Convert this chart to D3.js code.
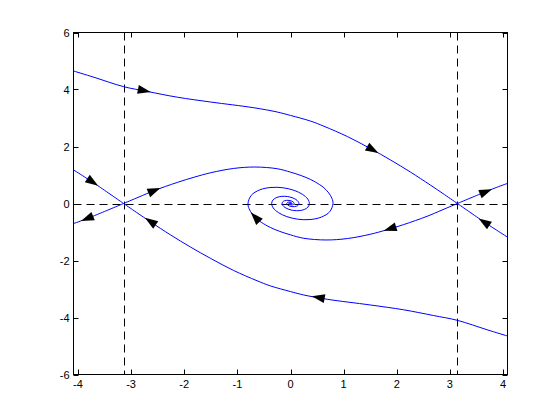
<!DOCTYPE html>
<html>
<head>
<meta charset="utf-8">
<script src="https://cdn.jsdelivr.net/npm/d3@7"></script>
<style>
body { margin: 0; background: #fff; }
svg text { font-family: "Liberation Sans", Arial, sans-serif; font-size: 11px; fill: #000; }
</style>
</head>
<body>
<svg id="chart" width="560" height="420"></svg>
<script>
const xTicks = [-4, -3, -2, -1, 0, 1, 2, 3, 4];
const yTicks = [-6, -4, -2, 0, 2, 4, 6];
const saddles = [-3.1416, 3.1416];

// trajectories, each listed in the direction of motion
const topCurve = [[-4.084, 4.65], [-3.70, 4.43], [-3.1416, 4.10], [-2.69, 3.93], [-2.13, 3.73], [-1.50, 3.56],
  [-0.69, 3.36], [-0.25, 3.21], [0, 3.09], [0.38, 2.89], [0.63, 2.71], [1.07, 2.35], [1.50, 1.93],
  [1.88, 1.53], [2.26, 1.10], [2.63, 0.65], [2.90, 0.31], [3.1416, 0]];
const bottomCurve = [[4.084, -4.65], [3.70, -4.43], [3.1416, -4.10], [2.69, -3.93], [2.13, -3.73], [1.50, -3.56],
  [0.69, -3.36], [0.25, -3.21], [0, -3.09], [-0.38, -2.89], [-0.63, -2.71], [-1.07, -2.35], [-1.50, -1.93],
  [-1.88, -1.53], [-2.26, -1.10], [-2.63, -0.65], [-2.90, -0.31], [-3.1416, 0]];
const upperLeft = [[-4.084, 1.18], [-3.85, 0.90], [-3.63, 0.63], [-3.1416, 0]];
const lowerRight = [[4.084, -1.18], [3.85, -0.90], [3.63, -0.63], [3.1416, 0]];
const rightUp = [[3.1416, 0], [3.63, 0.38], [3.85, 0.545], [4.084, 0.705]];
const leftDown = [[-3.1416, 0], [-3.63, -0.38], [-3.85, -0.545], [-4.084, -0.705]];
const spiralLeft = [[-3.1416, 0], [-2.85, 0.23], [-2.57, 0.45], [-2.13, 0.74], [-1.80, 0.93], [-1.50, 1.08],
  [-1.07, 1.23], [-0.67, 1.28], [-0.25, 1.22], [0, 1.10], [0.20, 0.98], [0.38, 0.84], [0.55, 0.66],
  [0.63, 0.55], [0.72, 0.37], [0.78, 0.18], [0.80, 0], [0.739, -0.286], [0.581, -0.477], [0.367, -0.563],
  [0.138, -0.551], [-0.069, -0.460], [-0.228, -0.318], [-0.325, -0.155], [-0.355, 0], [-0.328, 0.127],
  [-0.258, 0.212], [-0.163, 0.250], [-0.061, 0.245], [0.031, 0.204], [0.102, 0.141], [0.144, 0.069],
  [0.158, 0], [0.146, -0.056], [0.115, -0.094], [0.072, -0.111], [0.027, -0.109], [-0.014, -0.091],
  [-0.045, -0.063], [-0.064, -0.031], [-0.070, 0], [-0.051, 0.042], [-0.012, 0.048], [0.020, 0.028],
  [0.031, 0], [0.023, -0.019], [0.005, -0.022], [-0.009, -0.012], [-0.014, 0], [0, 0]];
const spiralRight = [[3.1416, 0], [2.85, -0.23], [2.57, -0.45], [2.13, -0.74], [1.80, -0.93], [1.50, -1.08],
  [1.07, -1.23], [0.67, -1.28], [0.25, -1.22], [0, -1.10], [-0.20, -0.98], [-0.38, -0.84], [-0.55, -0.66],
  [-0.63, -0.55], [-0.72, -0.37], [-0.78, -0.18], [-0.80, 0], [-0.739, 0.286], [-0.581, 0.477], [-0.367, 0.563],
  [-0.138, 0.551], [0.069, 0.460], [0.228, 0.318], [0.325, 0.155], [0.355, 0], [0.328, -0.127],
  [0.258, -0.212], [0.163, -0.250], [0.061, -0.245], [-0.031, -0.204], [-0.102, -0.141], [-0.144, -0.069],
  [-0.158, 0], [-0.146, 0.056], [-0.115, 0.094], [-0.072, 0.111], [-0.027, 0.109], [0.014, 0.091],
  [0.045, 0.063], [0.064, 0.031], [0.070, 0], [0.051, -0.042], [0.012, -0.048], [-0.020, -0.028],
  [-0.031, 0], [-0.023, 0.019], [-0.005, 0.022], [0.009, 0.012], [0.014, 0], [0, 0]];

const curves = { topCurve, bottomCurve, upperLeft, lowerRight, rightUp, leftDown, spiralLeft, spiralRight };

// arrow heads: which trajectory, and where
const arrowCurve = ["topCurve", "topCurve", "upperLeft", "spiralLeft", "leftDown", "bottomCurve",
  "spiralRight", "spiralRight", "rightUp", "lowerRight", "bottomCurve"];
const arrowX = [-2.76, 1.54, -3.73, -2.57, -3.82, -2.63, -0.66, 1.88, 3.67, 3.65, 0.53];
const arrowY = [3.96, 1.89, 0.76, 0.45, -0.52, -0.64, -0.49, -0.88, 0.41, -0.66, -3.30];

const svg = d3.select("#chart");
const x = d3.scaleLinear().domain([-1.3 * Math.PI, 1.3 * Math.PI]).range([73.5, 507.5]);
const y = d3.scaleLinear().domain([-6, 6]).range([374.5, 32.5]);

// reference lines
const refs = svg.append("g")
    .attr("stroke", "#000")
    .attr("stroke-width", 1)
    .attr("stroke-dasharray", "8,5")
    .attr("fill", "none");
refs.append("line")
    .attr("x1", x.range()[0]).attr("x2", x.range()[1])
    .attr("y1", Math.round(y(0)) + 0.5).attr("y2", Math.round(y(0)) + 0.5);
refs.selectAll(".v")
    .data(saddles)
    .enter()
    .append("line")
    .attr("x1", (d) => Math.round(x(d)) + 0.5).attr("x2", (d) => Math.round(x(d)) + 0.5)
    .attr("y1", y.range()[1]).attr("y2", y.range()[0]);

// trajectories
const line = d3.line()
    .x((d) => x(d[0]))
    .y((d) => y(d[1]))
    .curve(d3.curveCatmullRom.alpha(0.5));

svg.append("g")
    .selectAll("path")
    .data(Object.values(curves))
    .enter()
    .append("path")
    .attr("d", line)
    .attr("fill", "none")
    .attr("stroke", "#0000ff")
    .attr("stroke-width", 1);

// arrow heads point along the nearest segment of their trajectory
function direction(pts, px, py) {
    let best = null, bestD = Infinity;
    for (let i = 0; i < pts.length - 1; i++) {
        const ax = x(pts[i][0]), ay = y(pts[i][1]);
        const bx = x(pts[i + 1][0]), by = y(pts[i + 1][1]);
        const mx = (ax + bx) / 2, my = (ay + by) / 2;
        const dd = (mx - px) ** 2 + (my - py) ** 2;
        if (dd < bestD) { bestD = dd; best = [bx - ax, by - ay]; }
    }
    return Math.atan2(best[1], best[0]) * 180 / Math.PI;
}

svg.append("g")
    .selectAll("path")
    .data(arrowX.map((d, i) => ({ x: d, y: arrowY[i], c: arrowCurve[i] })))
    .enter()
    .append("path")
    .attr("d", "M7,0 L-6,-4.5 L-6,4.5 Z")
    .attr("fill", "#000")
    .attr("transform", (d) => {
        const px = x(d.x), py = y(d.y);
        return `translate(${px},${py}) rotate(${direction(curves[d.c], px, py)})`;
    });

// axes box with inward ticks on all sides
const [x0, x1] = x.range();
const [y0, y1] = y.range();
svg.append("rect")
    .attr("x", x0).attr("y", y1)
    .attr("width", x1 - x0).attr("height", y0 - y1)
    .attr("fill", "none").attr("stroke", "#000");

const ticks = svg.append("g").attr("stroke", "#000");
xTicks.forEach((t) => {
    const px = Math.round(x(t)) + 0.5;
    ticks.append("line").attr("x1", px).attr("x2", px).attr("y1", y0).attr("y2", y0 - 5);
    ticks.append("line").attr("x1", px).attr("x2", px).attr("y1", y1).attr("y2", y1 + 5);
});
yTicks.forEach((t) => {
    const py = Math.round(y(t)) + 0.5;
    ticks.append("line").attr("x1", x0).attr("x2", x0 + 5).attr("y1", py).attr("y2", py);
    ticks.append("line").attr("x1", x1).attr("x2", x1 - 5).attr("y1", py).attr("y2", py);
});

svg.append("g")
    .selectAll("text")
    .data(xTicks)
    .enter()
    .append("text")
    .attr("x", (d) => x(d))
    .attr("y", y0 + 13)
    .attr("text-anchor", "middle")
    .text((d) => d);

svg.append("g")
    .selectAll("text")
    .data(yTicks)
    .enter()
    .append("text")
    .attr("x", x0 - 4)
    .attr("y", (d) => y(d) + 4)
    .attr("text-anchor", "end")
    .text((d) => d);
</script>
</body>
</html>
